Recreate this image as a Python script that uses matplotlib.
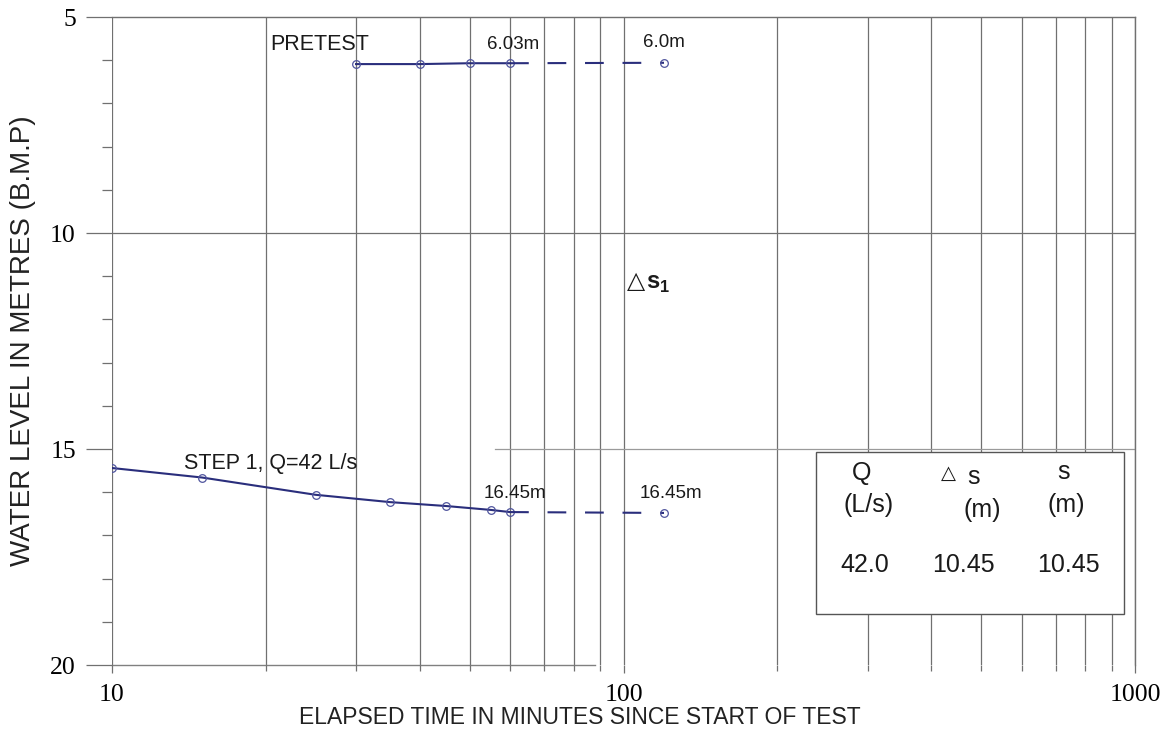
import matplotlib
matplotlib.use("Agg")
import matplotlib.pyplot as plt
from matplotlib.patches import Rectangle
from matplotlib.ticker import FixedLocator, NullFormatter, FixedFormatter

plt.rcParams['mathtext.fontset'] = 'custom'
plt.rcParams['mathtext.rm'] = 'Liberation Sans'
plt.rcParams['mathtext.bf'] = 'Liberation Sans:bold'

# ---- data ----
pretest_t = [30, 40, 50, 60]
pretest_wl = [6.09, 6.09, 6.07, 6.07]
pretest_end_t = 120
pretest_end_wl = 6.06

step1_t = [10, 15, 25, 35, 45, 55, 60]
step1_wl = [15.44, 15.66, 16.06, 16.23, 16.32, 16.41, 16.46]
step1_end_t = 120
step1_end_wl = 16.48

x_major = [10, 100, 1000]
x_minor = [20, 30, 40, 50, 60, 70, 80, 90, 200, 300, 400, 500, 600, 700, 800, 900]
y_major = [5, 10, 15, 20]
y_minor = [6, 7, 8, 9, 11, 12, 13, 14, 16, 17, 18, 19]

table_Q = ["42.0"]
table_ds = ["10.45"]
table_s = ["10.45"]

line_col = '#2a2e7c'
mk_col = '#50559e'
grid_col = '#707070'

fig = plt.figure(figsize=(11.61, 7.36), dpi=100)
ax = fig.add_axes([112/1161, 1-665/736, (1135-112)/1161, (665-17)/736])
ax.set_xscale('log')
ax.set_xlim(10, 1000)
ax.set_ylim(20, 5)

# grid lines
for v in x_major + x_minor:
    ax.axvline(v, color=grid_col, lw=0.9, zorder=1)
ax.axhline(10, color=grid_col, lw=0.9, zorder=1)
ax.plot([56, 1000], [15, 15], color='#9a9a9a', lw=0.9, zorder=1)

for s in ['bottom', 'left']:
    ax.spines[s].set_visible(False)
ax.spines['top'].set_color(grid_col)
ax.spines['right'].set_color(grid_col)
ax.spines['top'].set_linewidth(1.0)
ax.spines['right'].set_linewidth(1.0)
ax.plot([10, 88], [20, 20], color='#808080', lw=1.0, clip_on=False, zorder=1)

ax.xaxis.set_major_locator(FixedLocator(x_major))
ax.xaxis.set_minor_locator(FixedLocator(x_minor))
ax.xaxis.set_major_formatter(FixedFormatter([str(v) for v in x_major]))
ax.xaxis.set_minor_formatter(NullFormatter())
ax.yaxis.set_major_locator(FixedLocator(y_major))
ax.yaxis.set_minor_locator(FixedLocator(y_minor))
ax.yaxis.set_minor_formatter(NullFormatter())

ax.tick_params(axis='x', which='major', direction='out', length=6, width=0.9, color=grid_col,
               pad=8, labelsize=18.5, labelfontfamily='Liberation Serif')
ax.tick_params(axis='x', which='minor', direction='out', length=4, width=0.9, color=grid_col)
ax.tick_params(axis='y', which='major', direction='out', length=19, width=0.9, color=grid_col,
               pad=7, labelsize=18.5, labelfontfamily='Liberation Serif')
ax.tick_params(axis='y', which='minor', direction='out', length=7, width=0.9, color=grid_col)

ax.set_xlabel('ELAPSED TIME IN MINUTES SINCE START OF TEST', fontsize=16.5,
              family='Liberation Sans', color='#222222')
ax.xaxis.set_label_coords(0.4575, -0.064)
ax.set_ylabel('WATER LEVEL IN METRES (B.M.P)', fontsize=20,
              family='Liberation Sans', color='#222222')
ax.yaxis.set_label_coords(-0.074, 0.5)

# pretest
ax.plot(pretest_t, pretest_wl, color=line_col, lw=1.5, marker='o', ms=5.5,
        mfc='none', mec=mk_col, mew=0.9, zorder=3)
ax.plot([pretest_t[-1], pretest_end_t], [pretest_wl[-1], pretest_end_wl], color=line_col,
        lw=1.5, linestyle=(0, (9, 9)), zorder=3)
ax.plot([pretest_end_t], [pretest_end_wl], marker='o', ms=5.5, mfc='none', mec=mk_col, mew=0.9, zorder=3)

# step 1
ax.plot(step1_t, step1_wl, color=line_col, lw=1.5, marker='o', ms=5.5,
        mfc='none', mec=mk_col, mew=0.9, zorder=3)
ax.plot([step1_t[-1], step1_end_t], [step1_wl[-1], step1_end_wl], color=line_col,
        lw=1.5, linestyle=(0, (9, 9)), zorder=3)
ax.plot([step1_end_t], [step1_end_wl], marker='o', ms=5.5, mfc='none', mec=mk_col, mew=0.9, zorder=3)

tk = dict(family=['Liberation Sans', 'DejaVu Sans'], color='#1a1a1a', ha='center', va='center')
ax.text(25.5, 5.63, 'PRETEST', fontsize=15.5, **tk)
ax.text(60.8, 5.63, '6.03m', fontsize=13.5, **tk)
ax.text(120, 5.6, '6.0m', fontsize=13.5, **tk)
ax.text(20.4, 15.33, 'STEP 1, Q=42 L/s', fontsize=15.5, **tk)
ax.text(61.4, 16.02, '16.45m', fontsize=13.5, **tk)
ax.text(124, 16.02, '16.45m', fontsize=13.5, **tk)
ax.text(105.8, 11.12, '△', fontsize=17, family='DejaVu Sans', color='#1a1a1a',
        ha='center', va='center')
ax.text(110.6, 11.16, '$\\mathbf{s}_{\\mathbf{1}}$', fontsize=17, color='#1a1a1a',
        ha='left', va='center')

# table box
x0, x1 = (816-112)/1023, (1124-112)/1023
y0, y1 = (665-614)/648, (665-452)/648
ax.add_patch(Rectangle((x0, y0), x1-x0, y1-y0, transform=ax.transAxes, facecolor='white',
                       edgecolor='#555555', lw=1.0, zorder=4))
bt = dict(transform=ax.transAxes, fontsize=18, zorder=5, **tk)
ax.text(0.733, 0.296, 'Q', **bt)
ax.text(0.740, 0.247, '(L/s)', **bt)
ax.text(0.818, 0.296, '△', transform=ax.transAxes, fontsize=14, zorder=5,
        family='DejaVu Sans', color='#1a1a1a', ha='center', va='center')
ax.text(0.842, 0.290, 's', **bt)
ax.text(0.851, 0.239, '(m)', **bt)
ax.text(0.930, 0.298, 's', **bt)
ax.text(0.933, 0.247, '(m)', **bt)
cols = [0.736, 0.832, 0.935]
for cx, vals in zip(cols, [table_Q, table_ds, table_s]):
    for i, v in enumerate(vals):
        ax.text(cx, 0.154 - i*0.08, v, **bt)

fig.savefig('out.png', dpi=100)
